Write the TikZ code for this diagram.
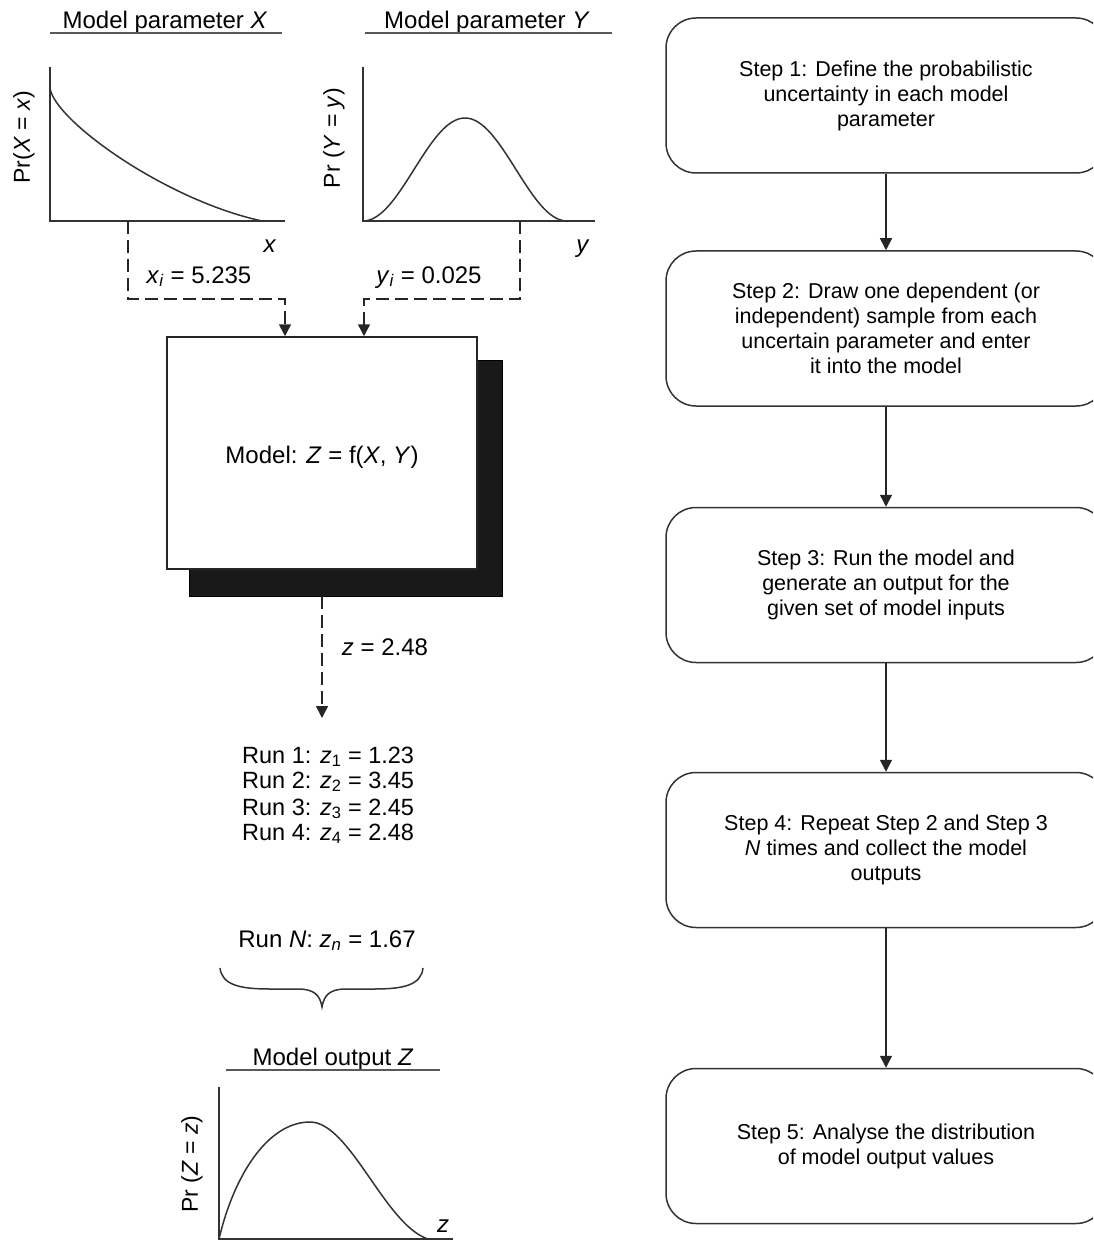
\documentclass[tikz,border=0pt]{standalone}
\usepackage{fontspec}
\setmainfont{Liberation Sans}
\usetikzlibrary{arrows.meta,calc}
\begin{document}
\begin{tikzpicture}[x=1pt,y=-1pt,
  ink/.style={draw=black!85, line width=1.5pt},
  axis/.style={draw=black!80, line width=1.4pt},
  curve/.style={draw=black!80, line width=1.5pt},
  dashline/.style={draw=black!85, line width=1.6pt, dash pattern=on 13pt off 6pt},
  tip/.style={-{Triangle[width=12pt,length=12pt]}},
  stepbox/.style={draw=black!80, line width=1.5pt, rounded corners=30pt, minimum width=440pt, minimum height=155pt, align=center, font=\fontsize{21.5}{25}\selectfont, text=black, inner sep=0pt},
  lbl/.style={font=\fontsize{24}{28}\selectfont, text=black, inner sep=0pt, anchor=base},
  runlbl/.style={font=\fontsize{23.5}{26}\selectfont, text=black, inner sep=0pt, anchor=base west},
  axlbl/.style={font=\fontsize{23}{27}\selectfont, text=black, inner sep=0pt, rotate=90},
  rule/.style={draw=black!65, line width=1.5pt},
]
\useasboundingbox (0,0) rectangle (1093,1241);
\clip (0,0) rectangle (1093,1241);

% ---------- right flow chart ----------
\node[stepbox] (s1) at (886,95.5) {Step 1: Define the probabilistic\\uncertainty in each model\\parameter};
\node[stepbox] (s2) at (886,328.5) {Step 2: Draw one dependent (or\\independent) sample from each\\uncertain parameter and enter\\it into the model};
\node[stepbox] (s3) at (886,585) {Step 3: Run the model and\\generate an output for the\\given set of model inputs};
\node[stepbox] (s4) at (886,850) {Step 4: Repeat Step 2 and Step 3\\\textit{N} times and collect the model\\outputs};
\node[stepbox] (s5) at (886,1146) {Step 5: Analyse the distribution\\of model output values};
\draw[ink,tip] (s1.south) -- (s2.north);
\draw[ink,tip] (s2.south) -- (s3.north);
\draw[ink,tip] (s3.south) -- (s4.north);
\draw[ink,tip] (s4.south) -- (s5.north);

% ---------- parameter X ----------
\node[lbl] (tx) at (165,29) {Model parameter \textit{X}};
\draw[rule] (50,33) -- (282,33);
\draw[axis] (50,67) -- (50,221) -- (285,221);
\draw[curve] (50,88) .. controls (54,120) and (165,200) .. (262,221);
\node[axlbl] (px) at (24,137) {Pr(\textit{X} = \textit{x})};
\node[lbl] (lx) at (270,253) {\textit{x}};
\node[lbl] (xi) at (199,283) {\textit{x}\textsubscript{\textit{i}} = 5.235};

% ---------- parameter Y ----------
\node[lbl] (ty) at (487,29) {Model parameter \textit{Y}};
\draw[rule] (365,33) -- (612,33);
\draw[axis] (363,67) -- (363,221) -- (595,221);
\draw[curve] plot[domain=0:1, samples=80, smooth] ({363+204*\x},{221-103*sin(180*\x)*sin(180*\x)});
\node[axlbl] (py) at (334,138) {Pr (\textit{Y} = \textit{y})};
\node[lbl] (ly) at (583,253) {\textit{y}};
\node[lbl] (yi) at (429,283) {\textit{y}\textsubscript{\textit{i}} = 0.025};

% ---------- model box ----------
\node[draw=black, fill=black!90, minimum width=313pt, minimum height=236pt, inner sep=0pt] (shadow) at (345.5,478) {};
\node[draw=black!85, line width=1.5pt, fill=white, minimum width=310pt, minimum height=232pt, inner sep=0pt] (model) at (322,453) {};
\node[lbl] (mtxt) at (322,463) {Model: \textit{Z} = f(\textit{X}, \textit{Y})};

% ---------- dashed sample connectors ----------
\coordinate (xs) at (128,221);
\coordinate (xm) at (285,299);
\draw[dashline,tip] (xs) |- (xm) -- (xm |- model.north);
\coordinate (ys) at (520,221);
\coordinate (ym) at (364,299);
\draw[dashline,tip] (ys) |- (ym) -- (ym |- model.north);

% ---------- output ----------
\coordinate (zs) at (model.south |- shadow.south);
\coordinate (ze) at (322,718);
\draw[dashline,tip] (zs) -- (ze);
\node[lbl] (zval) at (385,655) {\textit{z} = 2.48};

\node[runlbl] (r1) at (242,763) {Run 1: \textit{z}\textsubscript{1} = 1.23};
\node[runlbl] (r2) at (242,788) {Run 2: \textit{z}\textsubscript{2} = 3.45};
\node[runlbl] (r3) at (242,815) {Run 3: \textit{z}\textsubscript{3} = 2.45};
\node[runlbl] (r4) at (242,840) {Run 4: \textit{z}\textsubscript{4} = 2.48};
\node[lbl] (rn) at (327,947) {Run \textit{N}: \textit{z}\textsubscript{\textit{n}} = 1.67};

% brace
\draw[curve] (220,968) .. controls (222,985) and (240,989) .. (270,989) -- (298,989)
  .. controls (314,989) and (320,995) .. (322,1007)
  .. controls (324,995) and (330,989) .. (346,989) -- (374,989)
  .. controls (404,989) and (421,985) .. (423,968);

% ---------- output Z ----------
\node[lbl] (tz) at (333,1065) {Model output \textit{Z}};
\draw[rule] (226,1070) -- (440,1070);
\draw[axis] (219,1087) -- (219,1239) -- (453,1239);
\draw[curve] (219,1239) .. controls (234,1175) and (268,1122) .. (310,1122)
  .. controls (350,1122) and (385,1225) .. (428,1239);
\node[axlbl] (pz) at (192,1164) {Pr (\textit{Z} = \textit{z})};
\node[lbl] (lz) at (443,1232) {\textit{z}};
\end{tikzpicture}
\end{document}
